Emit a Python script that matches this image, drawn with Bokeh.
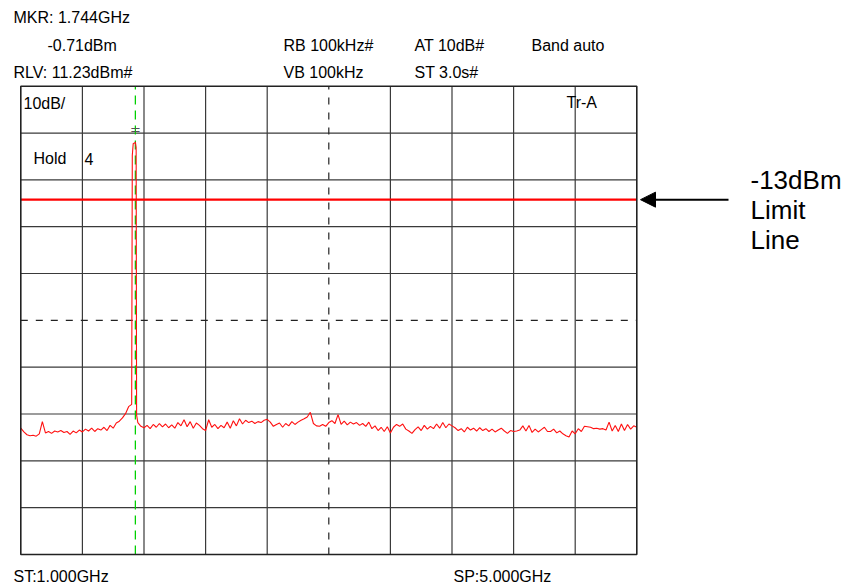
import numpy as np
from bokeh.plotting import figure
from bokeh.models import Range1d, Label, Arrow, NormalHead
from bokeh.core.properties import value
from bokeh.embed import file_html
from bokeh.resources import INLINE

# ---------------- data ----------------
start_ghz = 1.0
stop_ghz = 5.0
sweep_step_ghz = 0.02
ref_level_dbm = 11.23
db_per_div = 10
n_div = 10
limit_dbm = -13.0
marker_ghz = 1.744
marker_dbm = -0.71

# trace level (dBm) on the sweep grid 1.00, 1.02, ... 5.00 GHz
noise_dbm = [
    -61.8, -62.6, -63.2, -63.4, -63.3, -63.5, -63.0, -60.4, -62.8, -62.5,
    -62.9, -62.4, -62.6, -62.3, -62.7, -62.5, -63.1, -62.4, -62.8, -62.2,
    -62.6, -62.0, -62.4, -61.8, -62.5, -61.9, -62.2, -61.6, -62.3, -61.2,
    -61.8, -60.7, -60.3, -59.6, -58.7, -57.2, -56.7, -0.9, -60.6, -61.4,
    -61.7, -61.2, -61.9, -61.0, -61.6, -60.8, -61.5, -60.9, -61.7, -61.1,
    -61.8, -60.6, -61.3, -60.0, -61.5, -60.4, -61.8, -60.7, -61.2, -61.9,
    -62.3, -60.0, -61.6, -61.0, -61.9, -61.2, -61.7, -60.5, -61.8, -60.2,
    -61.3, -59.8, -60.9, -60.1, -60.6, -60.3, -60.8, -60.4, -60.6, -60.1,
    -59.9, -60.5, -61.4, -61.0, -60.7, -61.6, -60.8, -61.3, -60.4, -61.0,
    -60.5, -60.1, -59.8, -59.4, -58.4, -60.8, -61.3, -61.4, -61.0, -61.4,
    -60.6, -60.2, -60.8, -58.9, -61.0, -60.3, -61.1, -60.5, -60.9, -60.6,
    -61.2, -60.8, -61.4, -60.5, -61.9, -61.3, -62.3, -61.6, -62.5, -61.5,
    -62.8, -61.6, -61.0, -61.4, -60.9, -62.0, -62.4, -62.9, -62.1, -61.5,
    -62.3, -61.2, -62.0, -61.4, -61.9, -60.9, -61.8, -60.6, -61.7, -60.9,
    -61.3, -61.7, -62.3, -61.9, -62.6, -61.6, -62.2, -61.8, -62.4, -61.7,
    -62.3, -61.9, -62.5, -62.0, -62.6, -62.2, -61.8, -62.4, -62.9, -62.3,
    -62.5, -62.4, -62.2, -61.3, -62.4, -61.2, -62.7, -62.0, -62.6, -62.1,
    -61.6, -62.5, -62.5, -62.0, -62.8, -62.4, -63.0, -63.4, -63.7, -62.4,
    -63.0, -61.9, -62.5, -61.4, -61.5, -61.6, -61.9, -61.8, -62.0, -61.9,
    -62.2, -60.5, -62.4, -61.2, -62.5, -60.9, -62.3, -61.0, -62.0, -61.3,
    -61.6,
]
# extra samples describing the carrier peak
peak_freq_ghz = [1.724, 1.730, 1.744, 1.749, 1.752]
peak_dbm = [-3.5, -1.0, -0.71, -1.8, -59.0]

header_left = ["MKR: 1.744GHz", "-0.71dBm", "RLV: 11.23dBm#"]
header_mid = ["RB 100kHz#", "VB 100kHz"]
header_right = ["AT 10dB#", "ST 3.0s#"]
band_text = "Band auto"
start_text = "ST:1.000GHz"
stop_text = "SP:5.000GHz"
limit_texts = ["-13dBm", "Limit", "Line"]

# ---------------- layout ----------------
W, H = 849, 586
PL, PR, PT, PB = 20.3, 636.3, 85.7, 554.0     # grid box in canvas px
span_db = db_per_div * n_div
bottom_dbm = ref_level_dbm - span_db
gpp = (stop_ghz - start_ghz) / (PR - PL)
dpp = span_db / (PB - PT)

def X(cx):
    return start_ghz + (cx - PL) * gpp

def Y(cy):
    return ref_level_dbm - (cy - PT) * dpp

p = figure(width=W, height=H,
           x_range=Range1d(start_ghz - PL * gpp, stop_ghz + (W - PR) * gpp),
           y_range=Range1d(bottom_dbm - (H - PB) * dpp, ref_level_dbm + PT * dpp),
           output_backend="svg", toolbar_location=None,
           x_axis_location=None, y_axis_location=None,
           min_border=0, outline_line_color=None)
p.grid.visible = False
p.background_fill_color = "white"
p.border_fill_color = "white"

# sweep
n_pts = int(round((stop_ghz - start_ghz) / sweep_step_ghz)) + 1
sweep_ghz = np.round(start_ghz + sweep_step_ghz * np.arange(n_pts), 4)
freq = np.concatenate([sweep_ghz, peak_freq_ghz])
lvl = np.concatenate([np.array(noise_dbm), peak_dbm])
order = np.argsort(freq, kind="stable")
freq, lvl = freq[order], lvl[order]

# graticule
fx = [start_ghz + k * (stop_ghz - start_ghz) / n_div for k in range(n_div + 1)]
ly = [ref_level_dbm - k * db_per_div for k in range(n_div + 1)]
mid = n_div // 2
inner = [k for k in range(1, n_div) if k != mid]
grid_col = "#3a3a3a"
p.segment(x0=[fx[k] for k in inner], y0=bottom_dbm, x1=[fx[k] for k in inner], y1=ref_level_dbm,
          line_color=grid_col, line_width=1.2)
p.segment(x0=start_ghz, y0=[ly[k] for k in inner], x1=stop_ghz, y1=[ly[k] for k in inner],
          line_color=grid_col, line_width=1.2)
p.segment(x0=[fx[mid]], y0=bottom_dbm, x1=[fx[mid]], y1=ref_level_dbm,
          line_color="#222222", line_width=1.2, line_dash="7 8")
p.segment(x0=start_ghz, y0=[ly[mid]], x1=stop_ghz, y1=[ly[mid]],
          line_color="#222222", line_width=1.2, line_dash="7 8")

# marker line
p.segment(x0=[marker_ghz], y0=bottom_dbm, x1=[marker_ghz], y1=ref_level_dbm,
          line_color="#00d000", line_width=1.3, line_dash="9 6")

# trace
p.line(freq, lvl, line_color="#ff1010", line_width=1.1)

# limit line
p.segment(x0=[start_ghz], y0=[limit_dbm], x1=[stop_ghz], y1=[limit_dbm],
          line_color="#ff0000", line_width=2.2)

# frame
p.quad(left=[start_ghz], right=[stop_ghz], top=[ref_level_dbm], bottom=[bottom_dbm],
       fill_color=None, line_color="#222222", line_width=1.6)

# marker symbol
p.text(x=[marker_ghz], y=[marker_dbm], text=["="], y_offset=-13,
       text_align="center", text_baseline="middle", text_font=value("DejaVu Sans"),
       text_font_size="13px", text_color="#555555")

FONT = "Liberation Sans"

def lab(cx, cy, t, size="16px", baseline="middle"):
    p.add_layout(Label(x=X(cx), y=Y(cy), text=t, text_font=FONT, text_font_size=size,
                       text_color="black", text_align="left", text_baseline=baseline))

lab(13, 17, header_left[0])
lab(47, 45, header_left[1])
lab(13, 72, header_left[2])
lab(283, 45, header_mid[0])
lab(283, 72, header_mid[1])
lab(414, 45, header_right[0])
lab(414, 72, header_right[1])
lab(531, 45, band_text)

lab(23, 103, "10dB/")
lab(33, 158, "Hold")
lab(84, 158, "4")
lab(566, 102, "Tr-A")

lab(13, 576, start_text)
lab(453, 576, stop_text)

for i, t in enumerate(limit_texts):
    lab(750, 179 + 30 * i, t, size="26px")

p.add_layout(Arrow(end=NormalHead(size=15, fill_color="black", line_color="black"),
                   x_start=X(728), y_start=limit_dbm, x_end=X(640), y_end=limit_dbm,
                   line_color="black", line_width=2))

open("out.html", "w").write(file_html(p, INLINE))
